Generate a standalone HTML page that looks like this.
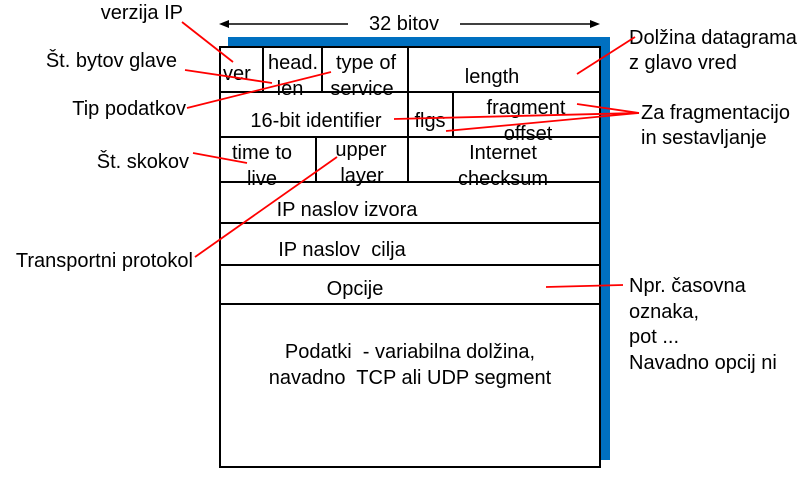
<!DOCTYPE html>
<html><head><meta charset="utf-8"><style>
body{margin:0;background:#fff;}
svg text{font-family:"Liberation Sans",sans-serif;font-size:20px;fill:#000;}
</style></head><body>
<svg width="801" height="474" viewBox="0 0 801 474" xmlns="http://www.w3.org/2000/svg">
<rect x="228" y="37" width="382" height="423" fill="#0070c0"/>
<rect x="220" y="47" width="380" height="420" fill="#fff" stroke="#000" stroke-width="2"/>
<g stroke="#000" stroke-width="2">
<line x1="220" y1="92" x2="600" y2="92"/>
<line x1="220" y1="137" x2="600" y2="137"/>
<line x1="220" y1="182" x2="600" y2="182"/>
<line x1="220" y1="223" x2="600" y2="223"/>
<line x1="220" y1="265" x2="600" y2="265"/>
<line x1="220" y1="304" x2="600" y2="304"/>
<line x1="263" y1="47" x2="263" y2="92"/>
<line x1="322" y1="47" x2="322" y2="92"/>
<line x1="408" y1="47" x2="408" y2="182"/>
<line x1="453" y1="92" x2="453" y2="137"/>
<line x1="316" y1="137" x2="316" y2="182"/>
</g>
<g stroke="#000" stroke-width="1.5">
<line x1="224" y1="24" x2="348" y2="24"/>
<line x1="460" y1="24" x2="595" y2="24"/>
</g>
<polygon points="219,24 229,20 229,28" fill="#000"/>
<polygon points="600,24 590,20 590,28" fill="#000"/>
<text x="404" y="30" text-anchor="middle">32 bitov</text>
<text x="223" y="80">ver</text>
<text x="293" y="69" text-anchor="middle">head.</text>
<text x="290" y="95" text-anchor="middle">len</text>
<text x="366" y="69" text-anchor="middle">type of</text>
<text x="362" y="95" text-anchor="middle">service</text>
<text x="492" y="83" text-anchor="middle">length</text>
<text x="316" y="127" text-anchor="middle">16-bit identifier</text>
<text x="430" y="127" text-anchor="middle">flgs</text>
<text x="526" y="114" text-anchor="middle">fragment</text>
<text x="528" y="140" text-anchor="middle">offset</text>
<text x="262" y="159" text-anchor="middle">time to</text>
<text x="262" y="185" text-anchor="middle">live</text>
<text x="361" y="156" text-anchor="middle">upper</text>
<text x="362" y="182" text-anchor="middle">layer</text>
<text x="503" y="159" text-anchor="middle">Internet</text>
<text x="503" y="185" text-anchor="middle">checksum</text>
<text x="347" y="216" text-anchor="middle">IP naslov izvora</text>
<text x="342" y="256" text-anchor="middle">IP naslov&#160; cilja</text>
<text x="355" y="295" text-anchor="middle">Opcije</text>
<text x="410" y="358" text-anchor="middle">Podatki&#160; - variabilna dolžina,</text>
<text x="410" y="384" text-anchor="middle">navadno&#160; TCP ali UDP segment</text>
<text x="183" y="19" text-anchor="end">verzija IP</text>
<text x="177" y="67" text-anchor="end">Št. bytov glave</text>
<text x="186" y="115" text-anchor="end">Tip podatkov</text>
<text x="189" y="168" text-anchor="end">Št. skokov</text>
<text x="193" y="267" text-anchor="end">Transportni protokol</text>
<text x="629" y="44">Dolžina datagrama</text>
<text x="629" y="69">z glavo vred</text>
<text x="641" y="119">Za fragmentacijo</text>
<text x="641" y="144">in sestavljanje</text>
<text x="629" y="292">Npr. časovna</text>
<text x="629" y="318">oznaka,</text>
<text x="629" y="343">pot ...</text>
<text x="629" y="369">Navadno opcij ni</text>
<g stroke="#ff0000" stroke-width="1.8" fill="none">
<line x1="182" y1="22" x2="233" y2="62"/>
<line x1="185" y1="70" x2="272" y2="83"/>
<line x1="187" y1="108" x2="331" y2="72"/>
<line x1="193" y1="153" x2="247" y2="163"/>
<line x1="195" y1="257" x2="337" y2="157"/>
<line x1="577" y1="74" x2="635" y2="37"/>
<line x1="577" y1="104" x2="639" y2="113"/>
<line x1="394" y1="119" x2="639" y2="113"/>
<line x1="446" y1="131" x2="639" y2="113"/>
<line x1="546" y1="287" x2="623" y2="285"/>
</g>
</svg>
</body></html>
